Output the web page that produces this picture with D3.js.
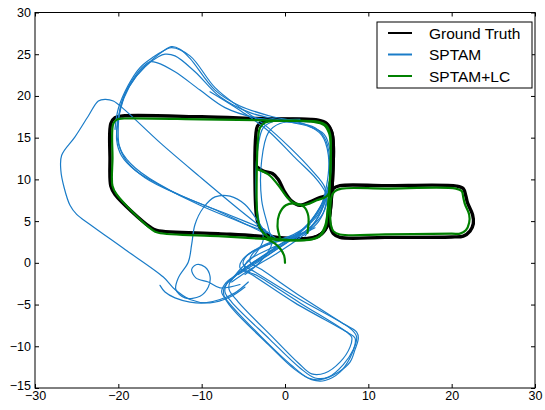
<!DOCTYPE html>
<html>
<head>
<meta charset="utf-8">
<script src="https://cdn.jsdelivr.net/npm/d3@7"></script>
<style>
  body { margin: 0; background: #fff; }
  svg { display: block; font-family: "Liberation Sans", Arial, sans-serif; }
</style>
</head>
<body>
<svg id="chart" width="545" height="410"></svg>
<script>
// ---- axis ticks ----
const xTicks = [-30, -20, -10, 0, 10, 20, 30];
const yTicks = [-15, -10, -5, 0, 5, 10, 15, 20, 25, 30];

// ---- legend ----
const seriesNames = ["Ground Truth", "SPTAM", "SPTAM+LC"];
const seriesColors = ["#000000", "#1a7cc8", "#008000"];

// ---- Ground Truth trajectory (x, y in metres) ----
const gtOuter = [[0,17.2],[4.0,17.1],[5.0,16.7],[5.6,15.7],[5.8,14.0],[5.7,10.0],[5.4,6.0],[5.1,4.5],[4.4,3.5],[3.4,3.0],[0,2.9],[-3,3.2],[-8,3.5],[-15.4,3.9],[-16.2,4.3],[-20.4,8.2],[-20.9,9.2],[-21.0,12.5],[-20.9,16.7],[-20.4,17.4],[-19.5,17.6],[-10,17.5],[-3.5,17.3]];
const gtMid = [[-3.5,15.3],[-3.3,16.4],[-2.6,17.0],[-1.5,17.2],[3.5,17.1],[4.9,16.7],[5.6,15.6],[5.8,14.0],[5.7,10.0],[5.4,6.0],[5.1,4.5],[4.3,3.4],[3.2,3.0],[-0.5,3.0],[-2.0,3.3],[-3.0,4.2],[-3.4,5.5],[-3.6,10.0]];
const gtRight = [[5.4,7.9],[5.8,8.9],[6.6,9.25],[12,9.25],[20.6,9.2],[21.4,8.9],[21.7,8.0],[21.9,7.2],[22.5,5.8],[22.6,4.7],[22.2,3.8],[21.4,3.2],[20,3.1],[12,3.05],[6.6,3.05],[5.8,3.5],[5.4,4.5]];
const gtInner = [[-3.5,11.6],[-2.6,11.0],[-1.5,10.7],[-0.8,10.0],[-0.1,8.6],[0.8,7.4],[1.8,6.9],[3.0,7.3],[4.1,7.8],[5.0,8.1],[5.5,8.7]];

// ---- SPTAM trajectory pieces ----
const sptamTent1 = [[1.8,3.7],[4.0,6.1],[5.0,9.3],[5.2,12.9],[4.4,15.3],[2.4,16.6],[-1.8,17.6],[-5.4,18.8],[-8.4,20.7],[-11.4,24.5],[-12.6,25.6],[-13.6,25.9],[-14.6,25.4],[-16.2,24.1],[-18.0,22.2],[-19.3,19.8],[-20.0,17.1],[-20.2,14.7],[-19.6,12.8],[-18.0,11.1],[-15.0,9.3],[-10.2,6.9],[-5.4,4.9],[-1.8,3.5]];
const sptamTent2 = [[2.4,3.2],[4.4,6.3],[5.4,10.0],[5.4,13.5],[4.7,15.4],[3.0,16.3],[-0.6,17.1],[-4.2,18.0],[-7.8,19.9],[-10.8,22.9],[-13.2,24.8],[-14.4,25.0],[-15.2,24.7],[-16.8,23.5],[-18.6,21.3],[-19.7,18.9],[-20.0,16.5],[-19.9,14.1],[-19.1,12.3],[-16.8,10.2],[-12.6,8.1],[-6.6,5.7],[-2.4,4.0]];
const sptamTent3 = [[1.2,2.8],[3.6,4.9],[4.9,7.6],[5.4,11.1],[4.9,14.7],[3.6,16.2],[0.6,16.9],[-3.6,17.4],[-7.2,18.6],[-10.2,20.7],[-13.2,22.9],[-15.4,24.0],[-16.2,24.1],[-16.6,23.9],[-17.6,22.9],[-19.0,20.7],[-19.8,18.3],[-20.2,15.7],[-19.7,13.5],[-18.0,11.4],[-13.8,8.7],[-7.8,6.1],[-2.8,3.7]];
const sptamTent4 = [[-20.4,16.0],[-20.0,18.5],[-18.8,21.3],[-17.4,23.4],[-15.9,24.6],[-14.4,25.5],[-13.6,25.8],[-11.4,24.8],[-8.4,21.0],[-5.4,18.6],[-2.4,16.5],[0.6,13.8],[3.2,11.1],[4.8,9.0],[4.9,7.0],[4.0,4.9],[1.8,3.0],[-1.2,1.0],[-4.2,-0.8],[-6.4,-2.3]];
const sptamDiag = [[-9.0,20.5],[-5.0,18.0],[-2.0,15.8],[1.2,12.6],[3.8,10.0],[5.0,8.0],[4.6,6.0],[3.0,4.2],[0.5,2.6],[-2.5,0.6],[-5.6,-1.4]];
const sptamHexagon = [[-1.2,3.0],[-5.4,6.3],[-10.2,10.3],[-15.0,14.4],[-19.2,18.3],[-20.6,19.4],[-21.6,19.6],[-22.4,19.4],[-23.6,17.6],[-25.2,15.1],[-26.8,12.9],[-26.9,11.1],[-26.5,9.0],[-25.8,6.9],[-25.0,5.8],[-23.4,4.6],[-19.2,1.6],[-14.6,-1.7],[-13.2,-3.2],[-11.4,-4.4],[-9.0,-4.8],[-6.6,-4.1],[-4.8,-2.9]];
const sptamHook = [[-15.0,-2.7],[-14.4,-3.5],[-13.2,-4.2],[-11.4,-4.7],[-9.6,-4.8],[-7.8,-4.4],[-6.0,-3.6],[-4.4,-2.3]];
const sptamLoops = [[-5.4,-2.6],[-7.8,-3.0],[-9.2,-2.3],[-10.7,-1.8],[-11.2,-0.8],[-10.6,-0.2],[-9.6,-0.5],[-9.0,-1.6],[-9.2,-2.9],[-10.2,-4.0],[-12.0,-4.2],[-13.1,-3.2],[-12.8,-1.8],[-11.6,0.1],[-11.2,2.2],[-10.8,4.6],[-9.8,6.6],[-8.4,7.9],[-6.6,8.0],[-4.8,7.0],[-3.2,4.9],[-2.0,3.0]];
const sptamMidLeft1 = [[1.8,17.2],[-1.2,17.0],[-2.6,16.2],[-3.2,14.1],[-3.5,8.7],[-3.1,4.9],[-2.6,2.8],[-3.6,1.0],[-5.4,-0.8],[-6.6,-2.3]];
const sptamMidLeft2 = [[3.0,16.9],[-0.6,16.7],[-2.0,15.6],[-2.8,12.3],[-2.8,7.5],[-2.0,4.2],[-1.6,2.2],[-3.0,0.1],[-4.8,-1.4]];
const sptamLoopA = [[4.9,8.1],[4.0,5.8],[1.8,3.7],[-1.2,1.8],[-4.2,-0.2],[-6.0,-1.6],[-7.0,-2.5],[-7.2,-3.5],[-6.4,-4.7],[-1.8,-9.2],[1.8,-12.6],[3.6,-13.8],[5.2,-13.7],[7.0,-12.2],[8.2,-10.4],[8.6,-8.9],[8.0,-8.0],[1.8,-4.4],[-3.6,-1.1],[-5.0,-0.2],[-4.8,0.6],[-2.4,2.2],[0.6,3.2],[3.0,4.6]];
const sptamLoopB = [[4.4,7.0],[2.4,4.2],[-0.6,2.2],[-3.6,0.1],[-5.6,-1.3],[-6.6,-2.3],[-6.7,-3.2],[-5.6,-4.7],[-1.2,-9.2],[1.6,-12.0],[3.2,-13.3],[4.8,-13.2],[6.6,-11.9],[7.8,-10.1],[8.0,-8.9],[7.4,-8.3],[1.8,-4.8],[-3.2,-1.6],[-4.8,-0.8],[-4.6,0.1],[-2.0,1.6],[0.8,2.8],[3.6,4.2]];
const sptamLoopC = [[5.4,10.0],[4.2,6.6],[1.6,3.4],[-1.8,1.3],[-4.8,-0.6],[-6.4,-1.9],[-7.3,-3.0],[-7.3,-4.0],[-6.4,-5.4],[-2.0,-9.8],[1.2,-12.8],[3.2,-14.0],[4.8,-14.1],[6.6,-13.1],[7.8,-11.4],[8.4,-9.8],[8.4,-9.0],[7.6,-8.4],[1.2,-4.8],[-4.0,-1.4],[-5.4,-0.6],[-5.0,0.5],[-2.8,1.9],[0.0,2.8],[2.4,3.7]];
const sptamLoopD = [[5.2,8.7],[3.7,5.8],[1.2,3.2],[-2.0,1.0],[-5.0,-0.8],[-6.2,-1.7],[-7.1,-2.4],[-7.6,-3.5],[-6.8,-4.7],[-2.8,-8.9],[0.8,-12.3],[2.8,-13.8],[4.2,-14.0],[6.4,-13.1],[7.8,-11.9],[8.4,-10.4],[8.8,-9.0],[8.6,-8.3],[7.2,-7.4],[2.0,-4.1],[-2.8,-0.8],[-4.2,0.1],[-3.8,1.2],[-1.2,2.5],[1.8,3.5]];

// ---- SPTAM+LC trajectory pieces ----
const lcOuter = [[0,17.0],[4.0,16.9],[4.9,16.5],[5.4,15.5],[5.5,14.0],[5.4,10.0],[5.1,6.0],[4.9,4.4],[4.2,3.2],[3.2,2.8],[0,2.7],[-3,2.9],[-8,3.2],[-15.2,3.6],[-16.0,4.0],[-20.2,8.2],[-20.7,9.2],[-20.7,12.5],[-20.6,16.7],[-20.1,17.2],[-19.3,17.3],[-10,17.2],[-3.5,17.1]];
const lcMid = [[-3.2,15.2],[-3.0,16.2],[-2.4,16.8],[-1.4,17.0],[3.4,16.9],[4.7,16.5],[5.3,15.5],[5.5,14.0],[5.4,10.0],[5.1,6.0],[4.8,4.4],[4.1,3.2],[3.0,2.8],[-0.5,2.8],[-2.0,3.1],[-2.9,4.0],[-3.3,5.5],[-3.4,10.0]];
const lcRight = [[5.6,8.0],[6.0,8.6],[6.8,8.9],[12,8.9],[20.5,8.9],[21.2,8.6],[21.4,7.8],[21.6,7.0],[22.1,5.8],[22.1,4.8],[21.7,3.9],[21.0,3.5],[20,3.5],[12,3.4],[6.6,3.4],[5.8,3.8],[5.5,4.6]];
const lcInner = [[-3.3,11.2],[-2.0,10.6],[-0.8,9.3],[0.4,7.7],[1.4,7.0],[2.6,7.0],[3.8,7.5],[4.9,7.9],[5.3,8.4]];
const lcLoop = [[-0.6,3.0],[-0.9,4.4],[-0.7,5.8],[0.1,6.9],[1.3,7.1],[2.3,6.7],[2.8,5.6],[2.7,3.6]];
const lcTail = [[-2.6,3.0],[-1.2,2.3],[-0.5,1.6],[-0.1,0.85],[0,0.0]];

// ---- layout ----
const svg = d3.select("#chart");
const plot = { left: 35, right: 535, top: 12.5, bottom: 388 };
const x = d3.scaleLinear().domain([-30, 30]).range([plot.left, plot.right]);
const y = d3.scaleLinear().domain([-15, 30]).range([plot.bottom, plot.top]);

svg.append("defs").append("clipPath").attr("id", "plotClip")
  .append("rect").attr("x", plot.left).attr("y", plot.top)
  .attr("width", plot.right - plot.left).attr("height", plot.bottom - plot.top);

const g = svg.append("g").attr("clip-path", "url(#plotClip)");

const openLine = d3.line().x(d => x(d[0])).y(d => y(d[1])).curve(d3.curveCatmullRom.alpha(0.5));
const closedLine = d3.line().x(d => x(d[0])).y(d => y(d[1])).curve(d3.curveCatmullRomClosed.alpha(0.5));

function drawPaths(list, color, width) {
  list.forEach(p => {
    g.append("path")
      .attr("d", (p.closed ? closedLine : openLine)(p.pts))
      .attr("fill", "none")
      .attr("stroke", color)
      .attr("stroke-width", width)
      .attr("stroke-linejoin", "round")
      .attr("stroke-linecap", "round");
  });
}

// Ground Truth
drawPaths([
  { pts: gtOuter, closed: true },
  { pts: gtMid, closed: true },
  { pts: gtRight, closed: true },
  { pts: gtInner, closed: false }
], seriesColors[0], 3.4);

// SPTAM
drawPaths([
  sptamTent1, sptamTent2, sptamTent3, sptamTent4, sptamDiag, sptamHexagon, sptamHook, sptamLoops,
  sptamMidLeft1, sptamMidLeft2, sptamLoopA, sptamLoopB, sptamLoopC, sptamLoopD
].map(p => ({ pts: p, closed: false })), seriesColors[1], 1.2);

// SPTAM+LC
drawPaths([
  { pts: lcOuter, closed: true },
  { pts: lcMid, closed: true },
  { pts: lcRight, closed: true },
  { pts: lcInner, closed: false },
  { pts: lcLoop, closed: false },
  { pts: lcTail, closed: false }
], seriesColors[2], 2.2);

// ---- axes (inward ticks on all four sides) ----
const tickLen = 4;
const fontSize = 12.5;

const axB = svg.append("g").attr("transform", `translate(0,${plot.bottom})`)
  .call(d3.axisBottom(x).tickValues(xTicks).tickSizeInner(-tickLen).tickSizeOuter(0).tickPadding(3));
const axT = svg.append("g").attr("transform", `translate(0,${plot.top})`)
  .call(d3.axisTop(x).tickValues(xTicks).tickSizeInner(-tickLen).tickSizeOuter(0).tickFormat(""));
const axL = svg.append("g").attr("transform", `translate(${plot.left},0)`)
  .call(d3.axisLeft(y).tickValues(yTicks).tickSizeInner(-tickLen).tickSizeOuter(0).tickPadding(4));
const axR = svg.append("g").attr("transform", `translate(${plot.right},0)`)
  .call(d3.axisRight(y).tickValues(yTicks).tickSizeInner(-tickLen).tickSizeOuter(0).tickFormat(""));

[axB, axT, axL, axR].forEach(a => {
  a.select(".domain").remove();
  a.selectAll("line").attr("stroke", "#000").attr("stroke-width", 1);
  a.selectAll("text").attr("fill", "#000").style("font-size", fontSize + "px")
    .style("font-family", '"Liberation Sans", Arial, sans-serif');
});
// the lowest y label sits just above the x labels at the corner
axL.selectAll(".tick").filter(d => d === -15).select("text").attr("dy", "0.1em");

svg.append("rect")
  .attr("x", plot.left).attr("y", plot.top)
  .attr("width", plot.right - plot.left).attr("height", plot.bottom - plot.top)
  .attr("fill", "none").attr("stroke", "#000").attr("stroke-width", 1);

// ---- legend ----
const leg = svg.append("g").attr("transform", "translate(377,22)");
leg.append("rect").attr("x", 0).attr("y", 0).attr("width", 155).attr("height", 66)
  .attr("fill", "#fff").attr("stroke", "#000").attr("stroke-width", 1);
seriesNames.forEach((name, i) => {
  const cy = 11 + i * 21.5;
  leg.append("line").attr("x1", 11).attr("x2", 35).attr("y1", cy).attr("y2", cy)
    .attr("stroke", seriesColors[i]).attr("stroke-width", 2);
  leg.append("text").attr("x", 52).attr("y", cy).attr("dy", "0.36em")
    .style("font-size", "15.5px").attr("fill", "#000").text(name);
});
</script>
</body>
</html>
